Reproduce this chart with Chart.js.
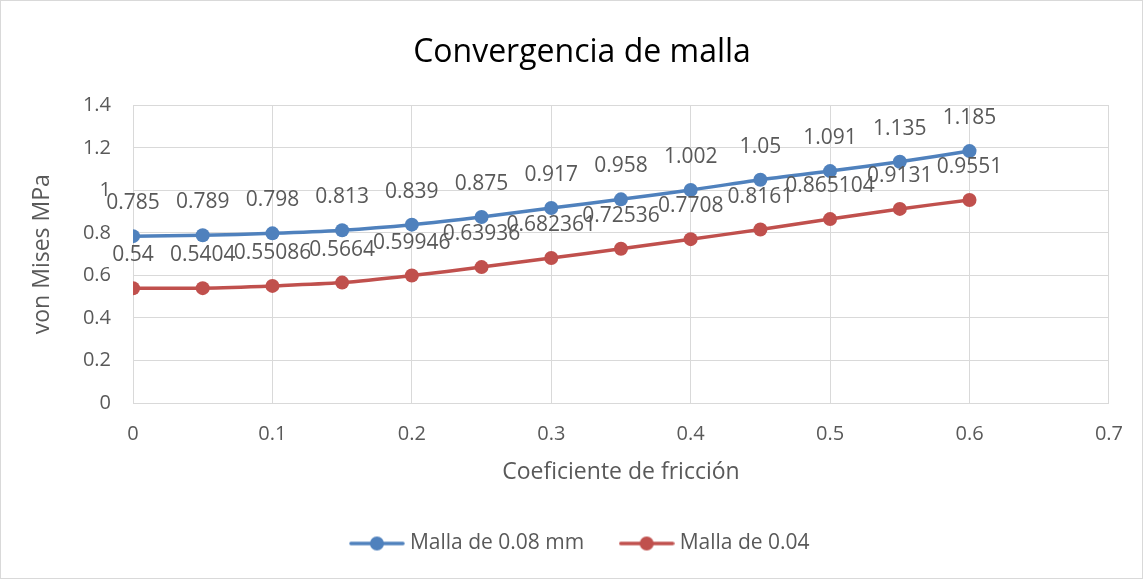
<!DOCTYPE html>
<html>
<head>
<meta charset="utf-8">
<script src="https://cdn.jsdelivr.net/npm/chart.js@4"></script>
<style>
  html, body { margin: 0; padding: 0; background: #fff; }
  #wrap { width: 1141px; height: 577px; border: 1px solid #d9d9d9; }
</style>
</head>
<body>
<div id="wrap"><canvas id="grafico"></canvas></div>
<script>
const friccion = [0, 0.05, 0.1, 0.15, 0.2, 0.25, 0.3, 0.35, 0.4, 0.45, 0.5, 0.55, 0.6];
const malla008 = [0.785, 0.789, 0.798, 0.813, 0.839, 0.875, 0.917, 0.958, 1.002, 1.05, 1.091, 1.135, 1.185];
const malla004 = [0.54, 0.5404, 0.55086, 0.5664, 0.59946, 0.63936, 0.682361, 0.72536, 0.7708, 0.8161, 0.865104, 0.9131, 0.9551];

const azul = '#4f81bd';
const rojo = '#c0504d';
const gris = '#595959';
const fuente = 'Open Sans, sans-serif';

Chart.defaults.font.family = fuente;
Chart.defaults.color = gris;

// icono de leyenda: línea con marcador
function iconoLeyenda(color) {
  const c = document.createElement('canvas');
  c.width = 56; c.height = 16;
  const g = c.getContext('2d');
  g.strokeStyle = color; g.lineWidth = 3.5; g.lineCap = 'round';
  g.beginPath(); g.moveTo(2, 8); g.lineTo(54, 8); g.stroke();
  g.fillStyle = color;
  g.beginPath(); g.arc(28, 8, 7, 0, Math.PI * 2); g.fill();
  return c;
}

// etiquetas de valor encima de cada punto + título del eje Y
const etiquetas = {
  id: 'etiquetas',
  afterDatasetsDraw(chart) {
    const ctx = chart.ctx;
    ctx.save();
    ctx.font = '21px ' + fuente;
    ctx.fillStyle = gris;
    ctx.textAlign = 'center';
    ctx.textBaseline = 'middle';
    chart.data.datasets.forEach((ds, i) => {
      chart.getDatasetMeta(i).data.forEach((p, j) => {
        ctx.fillText(String(ds.data[j].y), p.x, p.y - 33);
      });
    });
    const a = chart.chartArea;
    ctx.font = '23px ' + fuente;
    ctx.translate(41, (a.top + a.bottom) / 2);
    ctx.rotate(-Math.PI / 2);
    ctx.fillText('von Mises MPa', 0, 0);
    ctx.restore();
  }
};

const puntos = arr => arr.map((v, i) => ({ x: friccion[i], y: v }));

const serie = (label, valores, color) => ({
  label,
  data: puntos(valores),
  borderColor: color,
  backgroundColor: color,
  borderWidth: 3.5,
  pointRadius: 7,
  pointHoverRadius: 7,
  pointBorderWidth: 0,
  tension: 0.3,
  pointStyle: 'circle'
});

new Chart(document.getElementById('grafico'), {
  type: 'line',
  data: {
    datasets: [
      serie('Malla de 0.08 mm', malla008, azul),
      serie('Malla de 0.04', malla004, rojo)
    ]
  },
  options: {
    responsive: true,
    maintainAspectRatio: false,
    animation: false,
    layout: { padding: { left: 54, right: 33, top: 0, bottom: 14 } },
    scales: {
      x: {
        type: 'linear',
        min: 0, max: 0.7,
        afterFit(s) { s.height = 90; },
        ticks: { stepSize: 0.1, font: { size: 20 }, color: gris, padding: 19 },
        grid: { color: '#d9d9d9', drawTicks: false },
        border: { color: '#d9d9d9' },
        title: { display: true, text: 'Coeficiente de fricción', font: { size: 23 }, color: gris, padding: { top: 0, bottom: 7 } }
      },
      y: {
        min: 0, max: 1.4,
        afterFit(s) { s.width = 78; },
        ticks: { stepSize: 0.2, font: { size: 20 }, color: gris, padding: 22, callback: v => String(Math.round(v * 10) / 10) },
        grid: { color: '#d9d9d9', drawTicks: false },
        border: { display: false }
      }
    },
    plugins: {
      title: {
        display: true,
        text: 'Convergencia de malla',
        font: { size: 32, weight: 'normal' },
        color: '#000',
        padding: { top: 33, bottom: 33 }
      },
      legend: {
        position: 'bottom',
        labels: {
          usePointStyle: true,
          pointStyleWidth: 45,
          generateLabels(chart) {
            return chart.data.datasets.map((ds, i) => ({
              text: ds.label,
              pointStyle: iconoLeyenda(ds.borderColor),
              fontColor: gris,
              datasetIndex: i,
              lineWidth: 0,
              strokeStyle: 'transparent',
              fillStyle: 'transparent'
            }));
          },
          font: { size: 21 },
          color: gris,
          padding: 40
        }
      },
      tooltip: { enabled: false }
    }
  },
  plugins: [etiquetas]
});
</script>
</body>
</html>
